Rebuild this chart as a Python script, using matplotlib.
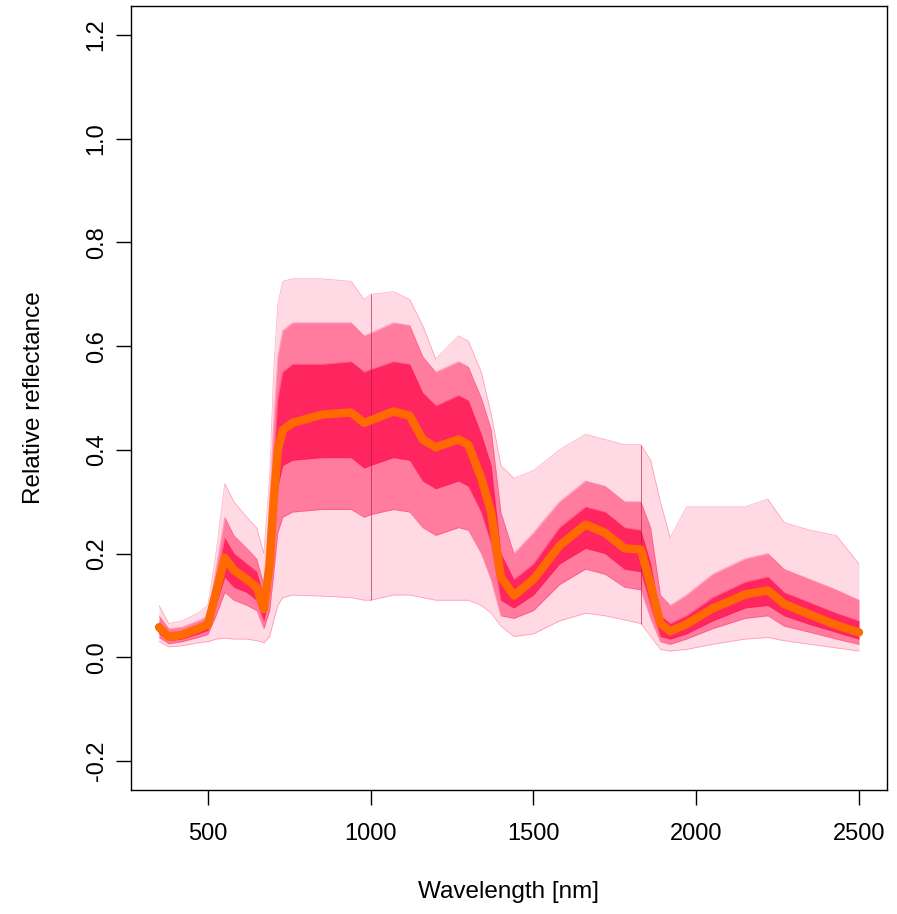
import numpy as np
import matplotlib
matplotlib.use("Agg")
from matplotlib import pyplot as plt

plt.rcParams["font.family"] = ["Liberation Sans", "DejaVu Sans"]

# wavelength grid (nm) and summary curves of the reflectance spectra
wavelength = [350, 380, 420, 470, 500, 525, 552, 580, 620, 650, 672, 690,
              702, 715, 730, 760, 850, 940, 980, 1000, 1070, 1120, 1160,
              1200, 1270, 1300, 1340, 1370, 1400, 1440, 1500, 1580, 1660,
              1720, 1780, 1830, 1860, 1890, 1920, 1970, 2050, 2150, 2220,
              2270, 2350, 2430, 2500]

mean_refl = [0.058, 0.039, 0.043, 0.055, 0.063, 0.125, 0.192, 0.168, 0.150,
             0.135, 0.093, 0.180, 0.300, 0.400, 0.438, 0.452, 0.468, 0.472,
             0.452, 0.457, 0.474, 0.466, 0.420, 0.405, 0.420, 0.410, 0.345,
             0.280, 0.155, 0.119, 0.150, 0.215, 0.256, 0.240, 0.210, 0.208,
             0.140, 0.065, 0.050, 0.064, 0.094, 0.121, 0.129, 0.103, 0.082,
             0.062, 0.048]

refl_max = [0.100, 0.065, 0.070, 0.085, 0.100, 0.200, 0.335, 0.300, 0.270,
            0.250, 0.200, 0.350, 0.550, 0.680, 0.725, 0.730, 0.730, 0.725,
            0.690, 0.700, 0.705, 0.690, 0.640, 0.575, 0.620, 0.610, 0.550,
            0.470, 0.370, 0.345, 0.360, 0.400, 0.430, 0.420, 0.410, 0.410,
            0.380, 0.300, 0.230, 0.290, 0.290, 0.290, 0.305, 0.260, 0.245,
            0.235, 0.180]

refl_q90 = [0.080, 0.055, 0.058, 0.070, 0.080, 0.170, 0.270, 0.235, 0.210,
            0.190, 0.140, 0.300, 0.450, 0.580, 0.630, 0.645, 0.645, 0.645,
            0.620, 0.625, 0.645, 0.640, 0.580, 0.550, 0.570, 0.560, 0.500,
            0.440, 0.280, 0.200, 0.240, 0.300, 0.340, 0.330, 0.300, 0.300,
            0.250, 0.120, 0.100, 0.120, 0.160, 0.190, 0.200, 0.170, 0.150,
            0.130, 0.110]

refl_q75 = [0.068, 0.048, 0.050, 0.062, 0.072, 0.145, 0.230, 0.200, 0.180,
            0.165, 0.115, 0.220, 0.370, 0.500, 0.550, 0.565, 0.565, 0.570,
            0.550, 0.555, 0.570, 0.565, 0.510, 0.485, 0.505, 0.495, 0.430,
            0.370, 0.200, 0.150, 0.180, 0.250, 0.290, 0.280, 0.250, 0.245,
            0.180, 0.080, 0.065, 0.080, 0.115, 0.145, 0.155, 0.125, 0.105,
            0.085, 0.070]

refl_q25 = [0.045, 0.032, 0.035, 0.045, 0.052, 0.100, 0.155, 0.135, 0.125,
            0.110, 0.070, 0.130, 0.230, 0.330, 0.370, 0.380, 0.385, 0.385,
            0.365, 0.370, 0.385, 0.380, 0.340, 0.325, 0.340, 0.330, 0.280,
            0.220, 0.110, 0.095, 0.120, 0.180, 0.210, 0.200, 0.170, 0.165,
            0.100, 0.040, 0.035, 0.045, 0.070, 0.095, 0.100, 0.080, 0.063,
            0.048, 0.035]

refl_q10 = [0.038, 0.026, 0.030, 0.038, 0.044, 0.080, 0.125, 0.110, 0.100,
            0.090, 0.055, 0.090, 0.160, 0.240, 0.270, 0.280, 0.285, 0.285,
            0.270, 0.275, 0.285, 0.280, 0.250, 0.235, 0.250, 0.245, 0.200,
            0.150, 0.080, 0.075, 0.090, 0.140, 0.170, 0.160, 0.135, 0.130,
            0.075, 0.030, 0.025, 0.035, 0.055, 0.075, 0.080, 0.060, 0.048,
            0.035, 0.025]

refl_min = [0.030, 0.020, 0.022, 0.028, 0.030, 0.035, 0.037, 0.035, 0.035,
            0.032, 0.028, 0.040, 0.070, 0.100, 0.115, 0.120, 0.118, 0.115,
            0.110, 0.110, 0.120, 0.120, 0.115, 0.110, 0.110, 0.110, 0.100,
            0.085, 0.060, 0.040, 0.045, 0.070, 0.085, 0.080, 0.072, 0.065,
            0.040, 0.015, 0.012, 0.015, 0.025, 0.035, 0.038, 0.032, 0.025,
            0.018, 0.012]

# detector splice points, where every spectrum steps
splices = [1000, 1830]

spec_col = "#FF0A4A"
mean_col = "#FF6A00"

wl = np.array(wavelength)

fig = plt.figure(figsize=(8.97, 9.14), dpi=100)
ax = fig.add_axes([131 / 897, 1 - 790 / 914, 756 / 897, 784 / 914])

ax.fill_between(wl, refl_min, refl_max, color=spec_col, alpha=0.15, lw=0)
ax.fill_between(wl, refl_q10, refl_q90, color=spec_col, alpha=0.45, lw=0)
ax.fill_between(wl, refl_q25, refl_q75, color=spec_col, alpha=0.75, lw=0)
for curve in [refl_min, refl_q10, refl_q25, refl_q75, refl_q90, refl_max]:
    ax.plot(wl, curve, color=spec_col, alpha=0.3, lw=0.6)

for s in splices:
    i = wavelength.index(s)
    ax.vlines(s, refl_min[i], refl_max[i], color="#B0103A", alpha=0.6, lw=0.7)

ax.plot(wl, mean_refl, color=mean_col, lw=6, solid_capstyle="round",
        solid_joinstyle="round")

ax.set_xlim(264, 2586)
ax.set_ylim(-0.256, 1.256)
ax.set_xticks([500, 1000, 1500, 2000, 2500])
ax.set_yticks([-0.2, 0.0, 0.2, 0.4, 0.6, 0.8, 1.0, 1.2])
ax.set_yticklabels(["-0.2", "0.0", "0.2", "0.4", "0.6", "0.8", "1.0", "1.2"],
                   rotation=90, va="center")
ax.tick_params(axis="both", length=10.8, width=1.0, labelsize=17)
ax.tick_params(axis="x", pad=13)
ax.tick_params(axis="y", pad=6)
for sp in ax.spines.values():
    sp.set_linewidth(1.0)

ax.set_xlabel("Wavelength [nm]", fontsize=17.5, labelpad=26)
ax.set_ylabel("Relative reflectance", fontsize=17.5, labelpad=29)

fig.savefig("out.png", dpi=100)
